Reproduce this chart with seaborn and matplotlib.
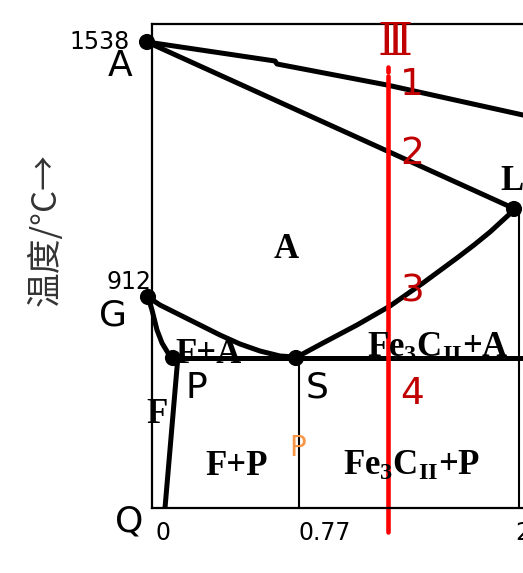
import matplotlib
matplotlib.use("Agg")
import matplotlib.pyplot as plt
import seaborn as sns

# schematic diagram units: x = composition axis position, y = temperature axis position
liquidus_x = [-5, 123, 125, 235, 448]
liquidus_y = [466, 447, 444, 423, 376]
solidus_x = [-5, 363]
solidus_y = [466, 299]
acm_x = [145, 171, 205, 238, 271, 305, 322, 338, 350, 362]
acm_y = [151, 165, 183, 202, 225, 250, 263, 276, 287, 298]
gs_x = [-4, 8, 28, 48, 68, 88, 108, 128, 144]
gs_y = [211, 203, 193, 183, 173, 164, 157, 152, 151]
gp_x = [-4, 0, 5, 10, 16, 21]
gp_y = [211, 198, 178, 165, 155, 151]
pq_x = [26, 13]
pq_y = [152, 0]
psk_x = [21, 448]
psk_y = [150, 150]
s_vert_x = [147, 147]
s_vert_y = [150, 0]
e_vert_x = [367, 367]
e_vert_y = [299, 0]
alloy_x = 236
alloy_top_y = [441, 436]
alloy_main_y = [432, -24]

points = ["A", "G", "P", "S", "E"]
point_x = [-5, -4, 21, 144, 362]
point_y = [466, 211, 150, 150, 299]

tick_pos = [11, 173, 363]
tick_labels = ["0", "0.77", "2.11"]
temp_labels = ["1538", "912"]

DARK_RED = "#c00000"


def main() -> None:
    sns.set_theme(style="white")
    plt.rcParams["font.family"] = ["DejaVu Sans"]
    plt.rcParams["mathtext.fontset"] = "custom"
    plt.rcParams["mathtext.bf"] = "Liberation Serif:bold"
    plt.rcParams["mathtext.rm"] = "Liberation Serif"

    fig = plt.figure(figsize=(5.23, 5.73), dpi=100)
    ax = fig.add_axes([152 / 523, 65 / 573, 448 / 523, 484 / 573])
    ax.set_xlim(0, 448)
    ax.set_ylim(0, 484)
    ax.set_xticks([])
    ax.set_yticks([])
    for sp in ax.spines.values():
        sp.set_linewidth(1.6)
        sp.set_color("black")

    thick = dict(color="black", linewidth=3.6, sort=False, estimator=None, ax=ax)
    thin = dict(color="black", linewidth=1.5, sort=False, estimator=None, ax=ax)
    sns.lineplot(x=liquidus_x, y=liquidus_y, **thick)
    sns.lineplot(x=solidus_x, y=solidus_y, **thick)
    sns.lineplot(x=acm_x, y=acm_y, **thick)
    sns.lineplot(x=gs_x, y=gs_y, **thick)
    sns.lineplot(x=gp_x, y=gp_y, **thick)
    sns.lineplot(x=pq_x, y=pq_y, **thick)
    sns.lineplot(x=psk_x, y=psk_y, **thick)
    sns.lineplot(x=s_vert_x, y=s_vert_y, **thin)
    sns.lineplot(x=e_vert_x, y=e_vert_y, **thin)
    for ln in ax.lines:
        ln.set_clip_on(False)
        ln.set_solid_capstyle("butt")
        ln.set_solid_joinstyle("round")

    red = dict(color="#ff0000", linewidth=3.3, sort=False, estimator=None, ax=ax)
    sns.lineplot(x=[alloy_x, alloy_x], y=alloy_top_y, **red)
    sns.lineplot(x=[alloy_x, alloy_x], y=alloy_main_y, **red)
    ax.lines[-1].set_clip_on(False)
    ax.lines[-2].set_clip_on(False)

    sns.scatterplot(x=point_x, y=point_y, s=135, color="black",
                    edgecolor="none", ax=ax, clip_on=False, zorder=5)

    sans = dict(color="black", ha="center", va="center", family=["DejaVu Sans"])
    ax.text(-52, 466, temp_labels[0], fontsize=17, **sans)
    ax.text(-23, 226, temp_labels[1], fontsize=17, **sans)
    ax.text(-32, 442, points[0], fontsize=26, **sans)
    ax.text(-39, 193, points[1], fontsize=26, **sans)
    ax.text(44, 120, points[2], fontsize=26, **sans)
    ax.text(165, 120, points[3], fontsize=26, **sans)
    ax.text(-23, -13, "Q", fontsize=26, **sans)
    for pos, lab in zip(tick_pos[:2], tick_labels[:2]):
        ax.text(pos, -25, lab, fontsize=17, **sans)
    ax.text(tick_pos[2], -25, tick_labels[2], fontsize=17, color="black",
            ha="left", va="center")

    ax.text(243, 466, "Ⅲ", fontsize=32, color=DARK_RED, ha="center",
            va="center", family=["DejaVu Serif", "DejaVu Sans"])
    for num, yy in zip(["1", "2", "3", "4"], [423, 354, 217, 114]):
        ax.text(260, yy, num, fontsize=27, color=DARK_RED, ha="center",
                va="center")

    serif = dict(color="black", va="baseline", family=["Liberation Serif"],
                 fontweight="bold", fontsize=25)
    ax.text(134, 250, "A", ha="center", **serif)
    ax.text(348, 318, "L", ha="left", **serif)
    ax.text(56, 145, "F+A", ha="center", **serif)
    ax.text(5, 85, "F", ha="center", **serif)
    ax.text(85, 33, "F+P", ha="center", **serif)
    ax.text(215, 151, r"$\mathbf{Fe_{3}C_{II}{+}A}$", ha="left", **serif)
    ax.text(191, 33, r"$\mathbf{Fe_{3}C_{II}{+}P}$", ha="left", **serif)
    ax.text(146, 60, "P", fontsize=20, color="#f79646", ha="center", va="center")

    fig.text(46 / 523, 1 - 230 / 573, "温度/°C→", rotation=90, fontsize=25,
             ha="center", va="center", color="#333333",
             family=["Noto Sans CJK SC", "DejaVu Sans"])

    fig.savefig("out.png", dpi=100)


if __name__ == "__main__":
    main()
